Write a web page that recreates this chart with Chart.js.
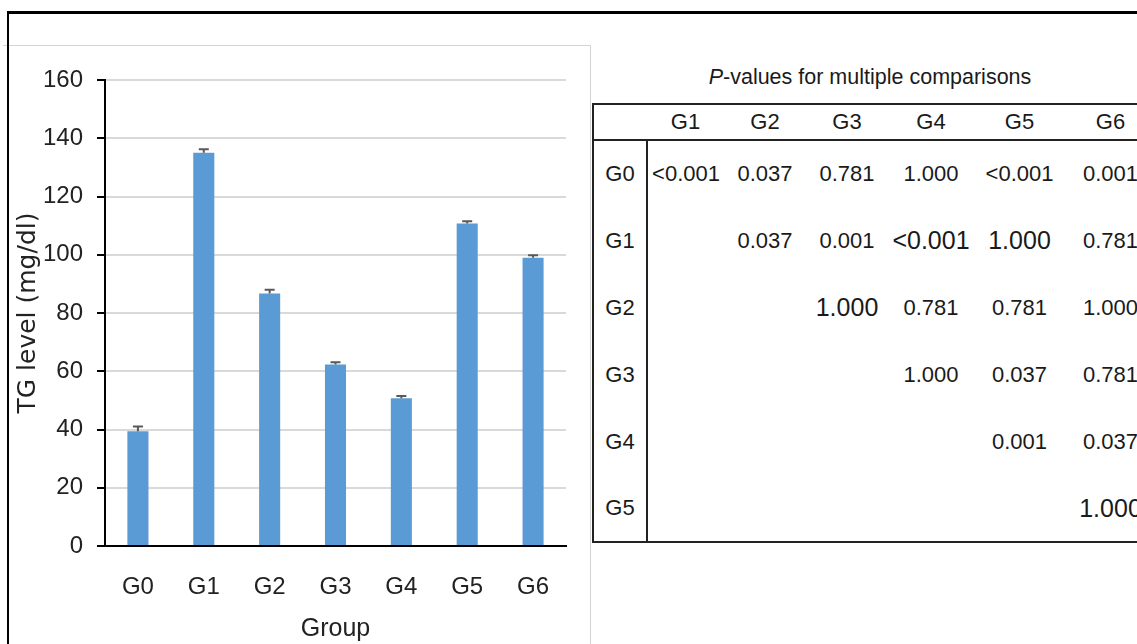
<!DOCTYPE html>
<html><head><meta charset="utf-8">
<script src="https://cdn.jsdelivr.net/npm/chart.js@4.4.1/dist/chart.umd.min.js"></script>
<style>
html,body{margin:0;padding:0;background:#fff;}
body{width:1137px;height:644px;overflow:hidden;position:relative;font-family:"Liberation Sans Narrow","Arial Narrow","Liberation Sans",sans-serif;color:#1a1a1a;}
#frame{position:absolute;left:7px;top:11px;width:1300px;height:800px;border-top:3px solid #000;border-left:2px solid #000;z-index:5;pointer-events:none;}
#chartbox{position:absolute;left:3px;top:45px;width:587px;height:700px;border-top:1px solid #d4d4d4;border-right:1px solid #d4d4d4;}
#wrap{position:absolute;left:0;top:46px;width:590px;height:598px;}
#ptitle{position:absolute;left:660px;width:420px;top:63px;text-align:center;font-size:21.5px;line-height:28px;}
#ptable{position:absolute;left:592px;top:103px;width:564px;border-collapse:collapse;table-layout:fixed;font-size:22px;border:2px solid #222;}
#ptable td,#ptable th{padding:0;text-align:center;font-weight:normal;white-space:nowrap;overflow:visible;}
#ptable thead tr{height:36px;border-bottom:2px solid #222;}
#ptable tbody tr{height:67px;}
#ptable td.rl{border-right:2px solid #222;}
#ptable .big{font-size:25px;}
</style></head>
<body>
<div id="chartbox"></div>
<div id="wrap"><canvas id="c" width="590" height="598"></canvas></div>
<div id="ptitle"><i>P</i>-values for multiple comparisons</div>
<table id="ptable"><colgroup id="cg"></colgroup><thead><tr id="hr"></tr></thead><tbody id="tb"></tbody></table>
<div id="frame"></div>
<script>
// ---- Chart data ----
const groups = ['G0','G1','G2','G3','G4','G5','G6'];
const tgMeans = [39.4, 135.0, 86.7, 62.3, 50.7, 110.7, 99.0];
const tgErrors = [1.6, 1.2, 1.3, 0.8, 0.8, 0.8, 0.8];
const yTicks = [0, 20, 40, 60, 80, 100, 120, 140, 160];

// ---- P-value table data ----
const pColumns = ['G1','G2','G3','G4','G5','G6'];
const pRows = ['G0','G1','G2','G3','G4','G5'];
const pG0 = ['<0.001','0.037','0.781','1.000','<0.001','0.001'];
const pG1 = ['','0.037','0.001','<0.001','1.000','0.781'];
const pG2 = ['','','1.000','0.781','0.781','1.000'];
const pG3 = ['','','','1.000','0.037','0.781'];
const pG4 = ['','','','','0.001','0.037'];
const pG5 = ['','','','','','1.000'];
const pEmphasis = ['1-3','1-4','2-2','5-5'];

// build table
const pMatrix = [pG0,pG1,pG2,pG3,pG4,pG5];
const colW = [54,77,82,82,86,91,92];
const cg = document.getElementById('cg');
colW.forEach(w=>{const c=document.createElement('col');c.style.width=w+'px';cg.appendChild(c);});
const hr = document.getElementById('hr');
hr.appendChild(document.createElement('th'));
pColumns.forEach(t=>{const th=document.createElement('th');th.textContent=t;hr.appendChild(th);});
const tb = document.getElementById('tb');
pMatrix.forEach((row,r)=>{
  const tr=document.createElement('tr');
  const l=document.createElement('td');l.className='rl';l.textContent=pRows[r];tr.appendChild(l);
  row.forEach((v,c)=>{const td=document.createElement('td');td.textContent=v;if(pEmphasis.includes(r+'-'+c))td.className='big';tr.appendChild(td);});
  tb.appendChild(tr);
});

// ---- Chart ----
const FONT = '"Liberation Sans Narrow","Arial Narrow","Liberation Sans",sans-serif';
const errorBarPlugin = {
  id:'errbars',
  afterDatasetsDraw(chart){
    const ctx = chart.ctx, y = chart.scales.y;
    const meta = chart.getDatasetMeta(0);
    ctx.save();
    ctx.strokeStyle = '#595959';
    ctx.lineWidth = 2;
    meta.data.forEach((bar,i)=>{
      const x = bar.x;
      const y0 = y.getPixelForValue(tgMeans[i]);
      const y1 = y.getPixelForValue(tgMeans[i] + tgErrors[i]);
      ctx.beginPath();
      ctx.moveTo(x, y0); ctx.lineTo(x, y1);
      ctx.moveTo(x-5, y1); ctx.lineTo(x+5, y1);
      ctx.stroke();
    });
    ctx.restore();
  }
};

new Chart(document.getElementById('c'), {
  type:'bar',
  data:{labels:groups, datasets:[{data:tgMeans, backgroundColor:'#5B9BD5', barPercentage:0.32, categoryPercentage:1.0}]},
  options:{
    responsive:false, animation:false, devicePixelRatio:1,
    layout:{padding:{top:34,right:24,left:0,bottom:0}},
    plugins:{legend:{display:false}, tooltip:{enabled:false}},
    scales:{
      x:{
        grid:{display:false, drawTicks:false},
        border:{color:'#000', width:2},
        ticks:{padding:27, color:'#222', font:{family:FONT, size:24}},
        title:{display:true, text:'Group', color:'#222', font:{family:FONT, size:25}, padding:{top:0,bottom:0}},
        afterFit(s){ s.height = 98; }
      },
      y:{
        min:0, max:160,
        afterBuildTicks(s){ s.ticks = yTicks.map(v=>({value:v})); },
        ticks:{padding:14, color:'#222', font:{family:FONT, size:24}},
        grid:{color:'#d9d9d9', lineWidth:2, tickColor:'#000', tickLength:8, tickWidth:2},
        border:{color:'#000', width:2},
        title:{display:true, text:'TG level (mg/dl)', color:'#222', font:{family:'"DejaVu Sans",sans-serif', size:25}, padding:{top:13}},
        afterFit(s){ s.width = 105; }
      }
    }
  },
  plugins:[errorBarPlugin]
});
</script>
</body></html>
